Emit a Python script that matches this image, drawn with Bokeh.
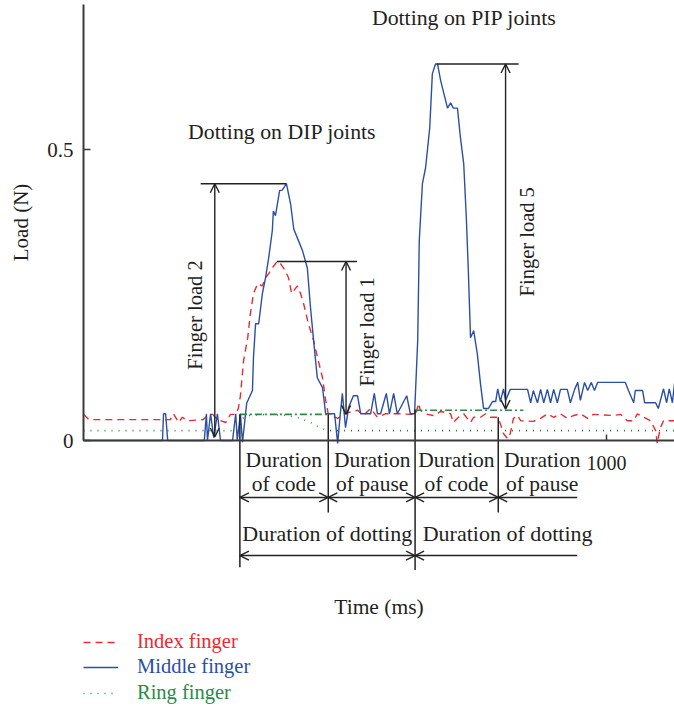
import math
from bokeh.plotting import figure
from bokeh.models import (Range1d, FixedTicker, Arrow, OpenHead, Legend,
                          LegendItem, ColumnDataSource)
from bokeh.core.properties import value
from bokeh.embed import file_html
from bokeh.resources import INLINE

# ---------------- data ----------------
middle_t = [0, 151, 153, 157, 161, 231, 235, 237, 243, 249, 256, 262, 285, 291, 294, 300, 304,
            312, 323, 325, 329, 335, 342, 348, 354, 361, 363, 367, 375, 380, 388, 396, 402, 411,
            419, 428, 434, 440, 447, 457, 463, 480, 486, 491, 495, 501, 507, 516, 524, 530, 549,
            556, 562, 568, 579, 585, 593, 600, 618, 625, 633, 639, 642, 648, 654, 662, 667, 673,
            677, 683, 688, 696, 702, 707, 715, 721, 727, 732, 736, 740, 746, 753, 759, 765, 774,
            782, 788, 792, 797, 803, 807, 816, 849, 855, 860, 868, 874, 880, 887, 893, 899, 906,
            912, 925, 931, 939, 945, 950, 958, 964, 971, 977, 983, 1036, 1042, 1052, 1055, 1069,
            1073, 1094, 1099, 1109, 1115, 1120, 1126, 1130]
middle_load = [0, 0, 0.046, 0.046, 0, 0, 0.046, 0, 0.046, 0.005, 0.046, 0, 0, 0.046, 0, 0.046,
               -0.003, 0.064, 0.086, 0.143, 0.201, 0.201, 0.253, 0.280, 0.314, 0.361, 0.395,
               0.387, 0.430, 0.431, 0.442, 0.407, 0.364, 0.344, 0.326, 0.297, 0.229, 0.172,
               0.108, 0.091, 0.046, 0.046, -0.005, 0.046, 0.081, 0.022, 0.057, 0.077, 0.077,
               0.046, 0.046, 0.081, 0.046, 0.046, 0.081, 0.046, 0.081, 0.046, 0.077, 0.046,
               0.046, 0.172, 0.344, 0.442, 0.469, 0.538, 0.631, 0.648, 0.648, 0.619, 0.601,
               0.572, 0.581, 0.572, 0.572, 0.519, 0.476, 0.383, 0.287, 0.177, 0.189, 0.149,
               0.098, 0.055, 0.055, 0.067, 0.067, 0.089, 0.067, 0.089, 0.069, 0.088, 0.088,
               0.065, 0.086, 0.065, 0.088, 0.065, 0.088, 0.065, 0.088, 0.065, 0.088, 0.088,
               0.065, 0.088, 0.100, 0.069, 0.100, 0.086, 0.100, 0.086, 0.100, 0.100, 0.086,
               0.065, 0.086, 0.086, 0.065, 0.065, 0.055, 0.089, 0.065, 0.089, 0.065, 0.098]

index_t = [0, 10, 166, 172, 182, 189, 199, 229, 239, 247, 256, 272, 281, 291, 296, 300, 306, 314,
           319, 325, 333, 342, 348, 354, 361, 371, 377, 386, 392, 398, 402, 409, 415, 421, 430,
           440, 449, 457, 463, 468, 486, 497, 524, 535, 549, 562, 577, 606, 625, 635, 641, 644,
           658, 669, 683, 702, 707, 717, 727, 740, 746, 759, 769, 778, 792, 797, 803, 811, 816,
           822, 830, 836, 860, 874, 887, 899, 912, 925, 937, 950, 964, 975, 1013, 1027, 1040,
           1052, 1059, 1071, 1084, 1094, 1097, 1103, 1109, 1130]
index_load = [0.045, 0.036, 0.036, 0.046, 0.031, 0.040, 0.034, 0.036, 0.045, 0.045, 0.036, 0.031,
              0.045, 0.045, 0.055, 0.077, 0.137, 0.177, 0.218, 0.253, 0.270, 0.266, 0.280,
              0.287, 0.297, 0.309, 0.304, 0.292, 0.280, 0.253, 0.258, 0.266, 0.253, 0.235,
              0.201, 0.172, 0.137, 0.108, 0.069, 0.046, 0.038, 0.046, 0.052, 0.043, 0.055,
              0.040, 0.046, 0.046, 0.045, 0.045, 0.064, 0.052, 0.045, 0.043, 0.050, 0.046,
              0.031, 0.040, 0.046, 0.031, 0.040, 0.040, 0.046, 0.040, 0.040, 0.029, 0.012,
              0.003, 0.012, 0.038, 0.043, 0.034, 0.033, 0.038, 0.046, 0.040, 0.046, 0.038,
              0.043, 0.046, 0.038, 0.045, 0.043, 0.045, 0.034, 0.034, 0.046, 0.040, 0.034,
              0.017, -0.005, 0.022, 0.034, 0.034]

ring_t = [0, 296, 304, 314, 352, 390, 415, 434, 453, 467, 1130]
ring_load = [0.017, 0.017, 0.038, 0.043, 0.045, 0.043, 0.038, 0.031, 0.022, 0.017, 0.017]

series_labels = ["Index finger", "Middle finger", "Ring finger"]

x_ticks = [1000]
y_ticks = [0, 0.5]
y_tick_labels = ["0", "0.5"]

# guide levels (green dash-dot) : start, end, level
guide_t0 = [299, 634]
guide_t1 = [472, 841]
guide_load = [0.045, 0.052]

# finger-load annotations
load_names = ["Finger load 2", "Finger load 1", "Finger load 5"]
load_arrow_t = [251, 502, 807]
load_top = [0.442, 0.308, 0.648]
load_bottom = [0.006, 0.045, 0.054]
load_bar_t0 = [224, 370, 676]
load_bar_t1 = [388, 523, 832]
load_text_t = [214, 542, 848]
load_text_y = [0.216, 0.187, 0.342]

# phase boundaries (ms) and their extents
bound_t = [299, 468, 634, 793]
bound_top = [0.045, 0.045, 0.053, 0.040]
bound_bottom = [-0.218, -0.124, -0.223, -0.124]
phase_end_t = 944
row1_y = -0.098
row2_y = -0.198
phase_labels = ["Duration\nof code", "Duration\nof pause", "Duration\nof code", "Duration\nof pause"]
phase_text_t = [383, 552, 713, 877]
phase_text_y = -0.055
dot_labels = ["Duration of dotting", "Duration of dotting"]
dot_text_t = [466, 811]
dot_text_y = -0.160

titles = ["Dotting on PIP joints", "Dotting on DIP joints"]
title_t = [728, 380]
title_y = [0.727, 0.531]

# ---------------- styling ----------------
FONT = "Liberation Serif"
TXT = "#231f20"
AX = "#3a3a3a"
RED = "#ea2a30"
BLUE = "#2c4fa6"
GREEN = "#2a8a45"

p = figure(width=674, height=710, output_backend="svg", toolbar_location=None,
           x_range=Range1d(-158.7, 1130), y_range=Range1d(-0.4647, 0.7573),
           min_border=0, outline_line_color=None, background_fill_color="white")
p.grid.visible = False

xa = p.xaxis[0]
xa.fixed_location = 0
xa.bounds = (0, 1130)
xa.ticker = FixedTicker(ticks=x_ticks)
xa.major_tick_in = 6
xa.major_tick_out = 0
xa.minor_tick_line_color = None
xa.axis_line_color = AX
xa.axis_line_width = 2
xa.major_tick_line_color = AX
xa.major_tick_line_width = 1.5
xa.major_label_text_font = FONT
xa.major_label_text_font_size = "20px"
xa.major_label_text_color = TXT
xa.major_label_standoff = 15
xa.axis_label = "Time (ms)"
xa.axis_label_text_font = FONT
xa.axis_label_text_font_size = "21.5px"
xa.axis_label_text_font_style = "normal"
xa.axis_label_text_color = TXT
xa.axis_label_standoff = 122

ya = p.yaxis[0]
ya.fixed_location = 0
ya.bounds = (0, 0.75)
ya.ticker = FixedTicker(ticks=y_ticks)
ya.major_label_overrides = {t: l for t, l in zip(y_ticks, y_tick_labels)}
ya.major_tick_in = 7
ya.major_tick_out = 0
ya.minor_tick_line_color = None
ya.axis_line_color = AX
ya.axis_line_width = 2
ya.major_tick_line_color = AX
ya.major_tick_line_width = 1.5
ya.major_label_text_font = FONT
ya.major_label_text_font_size = "21px"
ya.major_label_text_color = TXT
ya.major_label_standoff = 10
ya.axis_label = "Load (N)"
ya.axis_label_text_font = FONT
ya.axis_label_text_font_size = "21px"
ya.axis_label_text_font_style = "normal"
ya.axis_label_text_color = TXT
ya.axis_label_standoff = 11

# ---------------- series ----------------
r_ring = p.line(ring_t, ring_load, line_color=GREEN, line_width=1.6, line_dash="1 6")
r_index = p.line(index_t, index_load, line_color=RED, line_width=1.4, line_dash="7 5")
r_mid = p.line(middle_t, middle_load, line_color=BLUE, line_width=1.4)

# green guide lines
p.segment(x0=guide_t0, y0=guide_load, x1=guide_t1, y1=guide_load,
          line_color=GREEN, line_width=1.6, line_dash="7 3 2 3")

# finger-load bars and arrows
p.segment(x0=load_bar_t0, y0=load_top, x1=load_bar_t1, y1=load_top, line_color="#222222", line_width=1.5)
src_load = ColumnDataSource(dict(x=load_arrow_t, y0=load_bottom, y1=load_top))
p.add_layout(Arrow(source=src_load, x_start="x", y_start="y0", x_end="x", y_end="y1",
                   line_color="#222222", line_width=1.4,
                   start=OpenHead(size=9, line_color="#222222", line_width=1.4),
                   end=OpenHead(size=9, line_color="#222222", line_width=1.4)))
p.text(x=load_text_t, y=load_text_y, text=load_names, angle=math.pi / 2,
       text_font=value(FONT), text_font_size="20.5px", text_color=TXT,
       text_align="center", text_baseline="middle")

# phase boundaries
p.segment(x0=bound_t, y0=bound_top, x1=bound_t, y1=bound_bottom, line_color="#222222", line_width=1.5)

# double-headed phase arrows
r1_x0 = bound_t[:3]
r1_x1 = bound_t[1:]
dbl = ColumnDataSource(dict(x0=r1_x0 + [bound_t[0]], x1=r1_x1 + [bound_t[2]],
                            y=[row1_y] * len(r1_x0) + [row2_y]))
p.add_layout(Arrow(source=dbl, x_start="x0", y_start="y", x_end="x1", y_end="y",
                   line_color="#222222", line_width=1.4,
                   start=OpenHead(size=9, line_color="#222222", line_width=1.4),
                   end=OpenHead(size=9, line_color="#222222", line_width=1.4)))
sgl = ColumnDataSource(dict(x0=[bound_t[3], bound_t[2]], x1=[phase_end_t, phase_end_t],
                            y=[row1_y, row2_y]))
p.add_layout(Arrow(source=sgl, x_start="x0", y_start="y", x_end="x1", y_end="y",
                   line_color="#222222", line_width=1.4,
                   start=OpenHead(size=9, line_color="#222222", line_width=1.4), end=None))

p.text(x=phase_text_t, y=[phase_text_y] * 4, text=phase_labels,
       text_font=value(FONT), text_font_size="21.5px", text_color=TXT,
       text_align="center", text_baseline="middle", text_line_height=1.0)
p.text(x=dot_text_t, y=[dot_text_y] * 2, text=dot_labels,
       text_font=value(FONT), text_font_size="22px", text_color=TXT,
       text_align="center", text_baseline="middle")
p.text(x=title_t, y=title_y, text=titles,
       text_font=value(FONT), text_font_size="21.8px", text_color=TXT,
       text_align="center", text_baseline="middle")

# ---------------- legends ----------------
for rend, lab, col, ypos in zip([r_index, r_mid, r_ring], series_labels, [RED, BLUE, GREEN], [57, 32, 6]):
    lg = Legend(items=[LegendItem(label=lab, renderers=[rend])], location=(83, ypos),
                glyph_width=35, glyph_height=20, label_height=20, label_standoff=19,
                padding=0, margin=0, spacing=0, border_line_color=None,
                background_fill_alpha=0, label_text_font=FONT,
                label_text_font_size="20.5px", label_text_color=col)
    p.add_layout(lg, "center")

open("out.html", "w").write(file_html(p, INLINE))
